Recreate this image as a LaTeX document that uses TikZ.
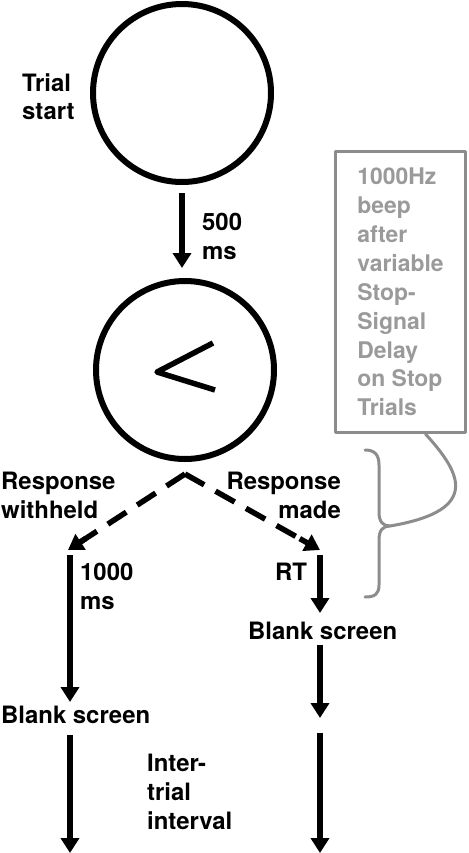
\documentclass[tikz,border=0pt]{standalone}
\usepackage{fontspec}
\setmainfont{TeX Gyre Heros}
\usepackage{xcolor}
\usetikzlibrary{arrows.meta,calc,positioning}
\definecolor{notegray}{HTML}{8C8C8C}
\definecolor{notetext}{HTML}{9A9A9A}
\tikzset{
  Screen/.style={draw, circle, line width=6bp, minimum size=178bp, inner sep=0pt},
  Flow/.style={line width=5.5bp, -{Triangle[width=18bp,length=15bp]}},
  Dashes/.style={line width=5.5bp, dash pattern=on 22bp off 13bp},
  Lbl/.style={inner sep=0pt, font=\bfseries\fontsize{24}{29}\selectfont},
  Note/.style={draw=notegray, line width=3bp, text=notetext, align=left,
    minimum width=130bp, minimum height=281bp, inner sep=0pt,
    font=\bfseries\fontsize{23}{29}\selectfont},
  Brace/.style={draw=notegray, line width=3bp, line cap=round}
}

\begin{document}
\begin{tikzpicture}[x=1bp, y=-1bp, line join=round]
  \useasboundingbox (0,0) rectangle (469,853);

  % the two screens
  \node[Screen] (start) at (182,93) {};
  \node[Screen] (cue) at (185,370) {};
  \draw[line width=5.5bp] (213,343) -- (157,372) -- (215,390);

  \node[Lbl, anchor=north west, align=left] (trial) at (22,73) {Trial\\start};
  \draw[Flow, shorten <=8bp, shorten >=10bp] (start.south) -- (start.south |- cue.north);
  \node[Lbl, anchor=north west, align=left] (soa) at (202,213) {500\\ms};

  % go / stop branches
  \coordinate (apex) at ([yshift=-12bp]cue.south);
  \coordinate (tipL) at (68,550);
  \coordinate (tipR) at (320,550);
  \draw[Dashes] (apex) -- ($(apex)!0.9!(tipL)$);
  \draw[Dashes] (apex) -- ($(apex)!0.9!(tipR)$);
  \draw[Flow] ($(apex)!0.85!(tipL)$) -- (tipL);
  \draw[Flow] ($(apex)!0.85!(tipR)$) -- (tipR);
  \node[Lbl, anchor=north west, align=left] (withheld) at (1,472) {Response\\withheld};
  \node[Lbl, anchor=north east, align=right] (made) at (341,472) {Response\\made};

  % left column
  \coordinate (topL) at (70,555);
  \coordinate (endL) at (70,853);
  \node[Lbl, anchor=north west] (blankL) at (1,706) {Blank screen};
  \draw[Flow, shorten >=4bp] (topL) -- (blankL.north -| topL);
  \draw[Flow, shorten <=11bp] (blankL.south -| endL) -- (endL);
  \node[Lbl, anchor=north west, align=left] (wait) at (80,563) {1000\\ms};

  % right column
  \coordinate (topR) at (320,555);
  \coordinate (gapR) at (320,725);
  \coordinate (endR) at (320,853);
  \node[Lbl, anchor=north west] (rt) at (275,563) {RT};
  \node[Lbl, anchor=north west] (blankR) at (248,622) {Blank screen};
  \draw[Flow, shorten >=9bp] (topR) -- (blankR.north -| topR);
  \draw[Flow, shorten <=5bp, shorten >=7bp] (blankR.south -| topR) -- (gapR);
  \draw[Flow, shorten <=8bp] (gapR) -- (endR);

  \node[Lbl, anchor=north west, align=left] (iti) at (147,754) {Inter-\\trial\\interval};

  % stop signal note
  \node[Note] (note) at (400.5,292)
    {1000Hz\\beep\\after\\variable\\Stop-\\Signal\\Delay\\on Stop\\Trials};
  \coordinate (tip) at (390,526);
  \draw[Brace] (365,450) .. controls (375,450) and (379,455) .. (379,465) -- (379,512)
    .. controls (379,522) and (383,526) .. (tip)
    .. controls (383,526) and (379,530) .. (379,540) -- (379,585)
    .. controls (379,594) and (375,597) .. (365,597);
  \draw[Brace] ([xshift=25bp]note.south) .. controls (458,470) and (485,510) .. (tip);
\end{tikzpicture}
\end{document}
